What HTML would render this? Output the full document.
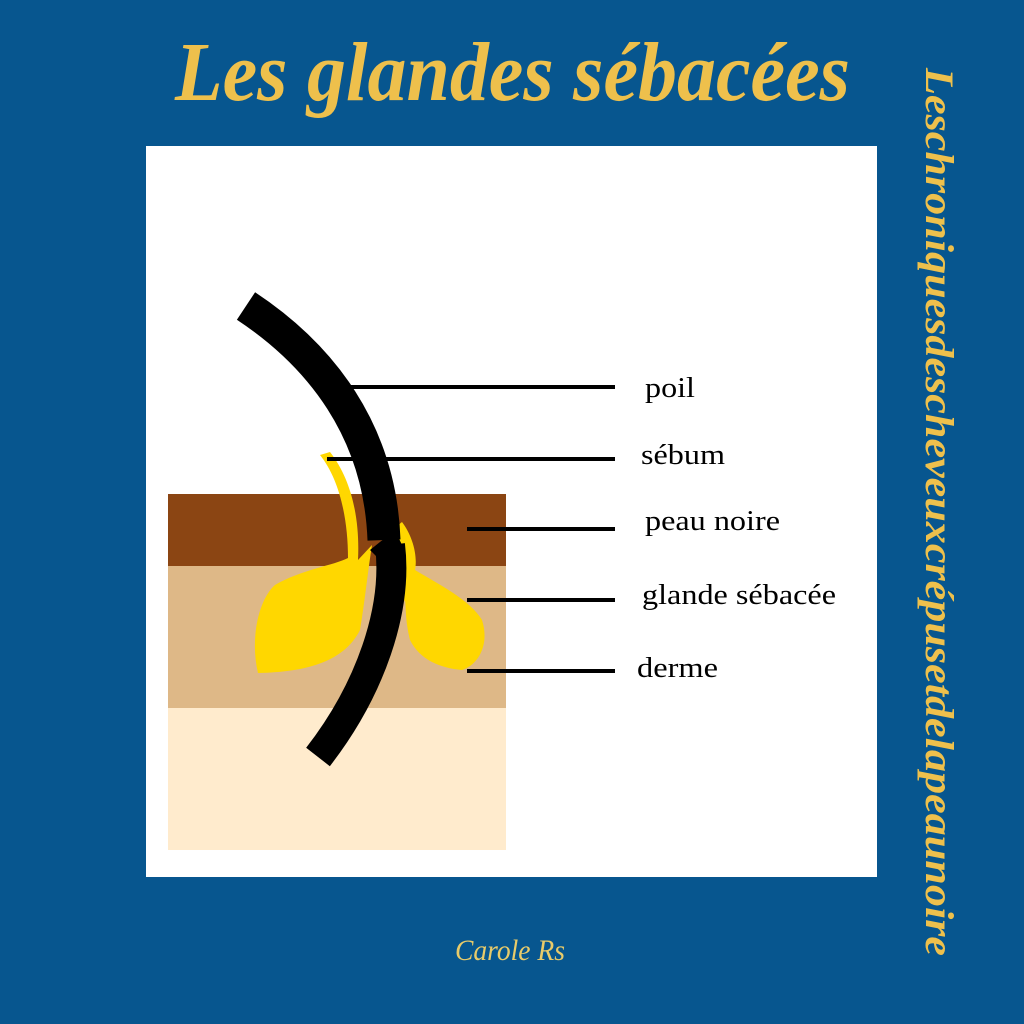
<!DOCTYPE html>
<html><head><meta charset="utf-8"><style>html,body{margin:0;padding:0;background:#07568F}svg{display:block}</style></head>
<body>
<svg width="1024" height="1024" viewBox="0 0 1024 1024" xmlns="http://www.w3.org/2000/svg">
<rect width="1024" height="1024" fill="#07568F"/>
<text x="175" y="100" font-family="Liberation Serif, serif" font-style="italic" font-weight="bold" font-size="84" fill="#EEC04C" textLength="675" lengthAdjust="spacingAndGlyphs">Les glandes sébacées</text>
<text transform="translate(926,68) rotate(90)" font-family="Liberation Serif, serif" font-style="italic" font-weight="bold" font-size="40" fill="#EEC04C" textLength="888" lengthAdjust="spacingAndGlyphs">Leschroniquesdescheveuxcrépusetdelapeaunoire</text>
<text x="455" y="960" font-family="Liberation Serif, serif" font-style="italic" font-size="30" fill="#E8CB6A" textLength="110" lengthAdjust="spacingAndGlyphs">Carole Rs</text>
<rect x="146" y="146" width="731" height="731" fill="#fff"/>
<rect x="168" y="494" width="338" height="72" fill="#8B4513"/>
<rect x="168" y="566" width="338" height="142" fill="#DEB887"/>
<rect x="168" y="708" width="338" height="142" fill="#FFEBCD"/>
<path d="M320,455 L330,452 C352,480 360,520 358,560 L372,545 C368,570 365,600 360,630 C345,660 310,672 258,673 C250,640 258,600 275,585 C300,570 335,565 348,558 C348,520 340,480 320,455 Z" fill="#FFD700"/>
<path d="M392,530 L402,522 C412,535 418,555 415,570 C440,585 470,600 482,620 C490,645 478,665 462,670 C440,668 420,660 410,640 C405,620 406,605 405,600 L400,608 L392,602 L403,585 C408,570 400,550 392,530 Z" fill="#FFD700"/>
<path d="M246,306 C320,355 380,430 384,540" stroke="#000" stroke-width="33" fill="none"/>
<path d="M390,545 C398,610 370,690 318,757" stroke="#000" stroke-width="30" fill="none"/>
<path d="M370,550 L395,530 L402,545 L380,560 Z" fill="#000"/>
<g stroke="#000" stroke-width="4">
<line x1="350" y1="387" x2="615" y2="387"/>
<line x1="327" y1="459" x2="615" y2="459"/>
<line x1="467" y1="529" x2="615" y2="529"/>
<line x1="467" y1="600" x2="615" y2="600"/>
<line x1="467" y1="671" x2="615" y2="671"/>
</g>
<g font-family="Liberation Serif, serif" font-size="29" fill="#000">
<text x="645" y="397" textLength="50" lengthAdjust="spacingAndGlyphs">poil</text>
<text x="641" y="464" textLength="84" lengthAdjust="spacingAndGlyphs">sébum</text>
<text x="645" y="530" textLength="135" lengthAdjust="spacingAndGlyphs">peau noire</text>
<text x="642" y="604" textLength="194" lengthAdjust="spacingAndGlyphs">glande sébacée</text>
<text x="637" y="677" textLength="81" lengthAdjust="spacingAndGlyphs">derme</text>
</g>
</svg>
</body></html>
